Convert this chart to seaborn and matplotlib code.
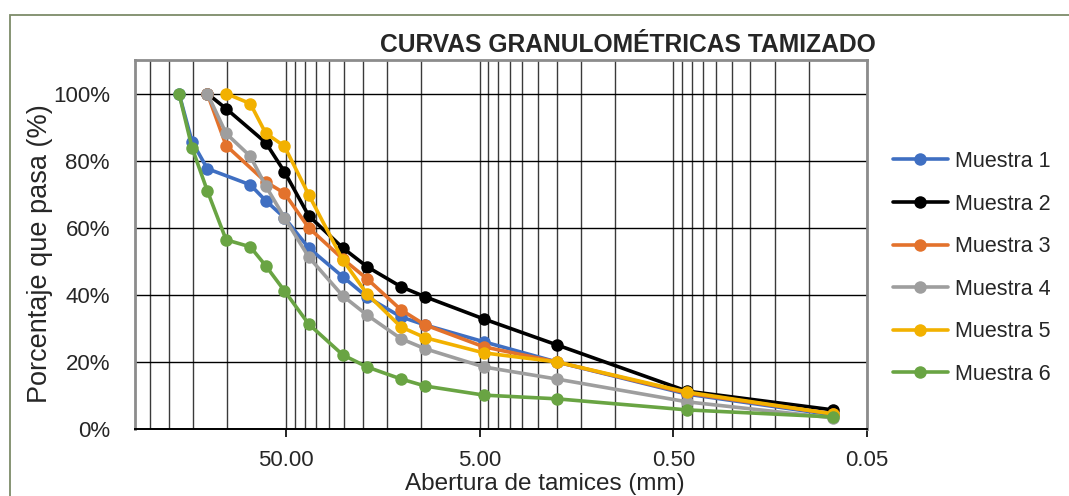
import numpy as np
import pandas as pd
import matplotlib
matplotlib.use("Agg")
import matplotlib.pyplot as plt
import seaborn as sns
from matplotlib.ticker import FixedLocator, FixedFormatter, NullFormatter
from matplotlib.patches import Rectangle

# ---------------- data ----------------
sieves = [177.8, 152.4, 127.0, 101.6, 76.2, 63.5, 50.8, 38.1, 25.4, 19.05,
          12.7, 9.525, 4.75, 2.0, 0.425, 0.075]
nan = np.nan
muestra_1 = [100, 85.7, 77.6, nan, 72.8, 68.1, 63.0, 54.0, 45.4, 39.4, 33.4, 31.0, 26.0, 20.0, 10.4, 4.2]
muestra_2 = [nan, nan, 100, 95.5, nan, 85.4, 76.7, 63.6, 54.0, 48.4, 42.4, 39.4, 32.8, 25.1, 11.3, 5.7]
muestra_3 = [nan, nan, 100, 84.5, nan, 73.7, 70.3, 60.0, 50.7, 44.8, 35.5, 31.0, 24.5, 20.0, 10.7, 4.5]
muestra_4 = [nan, nan, 100, 88.1, 81.3, 72.5, 63.0, 51.3, 39.7, 34.0, 26.9, 23.9, 18.5, 14.9, 8.1, 3.3]
muestra_5 = [nan, nan, nan, 100, 97.0, 88.2, 84.3, 69.9, 50.4, 40.3, 30.4, 27.2, 22.7, 20.0, 11.0, 4.5]
muestra_6 = [100, 83.9, 71.0, 56.4, 54.3, 48.7, 41.2, 31.3, 22.1, 18.5, 14.9, 12.8, 10.1, 9.0, 5.7, 3.6]

series_names = ["Muestra 1", "Muestra 2", "Muestra 3", "Muestra 4", "Muestra 5", "Muestra 6"]
series_vals = [muestra_1, muestra_2, muestra_3, muestra_4, muestra_5, muestra_6]
colors = ["#3F6FC2", "#000000", "#E3722C", "#9E9E9E", "#F2B100", "#69A443"]

x_major = [50, 5, 0.5, 0.05]
x_major_labels = ["50.00", "5.00", "0.50", "0.05"]
y_ticks = [0, 20, 40, 60, 80, 100]
y_labels = ["0%", "20%", "40%", "60%", "80%", "100%"]

title = "CURVAS GRANULOMÉTRICAS TAMIZADO"
xlabel = "Abertura de tamices (mm)"
ylabel = "Porcentaje que pasa (%)"

rows = []
for name, vals in zip(series_names, series_vals):
    for s, v in zip(sieves, vals):
        rows.append((name, s, v))
df = pd.DataFrame(rows, columns=["Serie", "Abertura", "Pasa"]).dropna()

# ---------------- plot ----------------
sns.set_theme(style="white")
plt.rcParams["font.family"] = ["Liberation Sans", "DejaVu Sans"]

W, H = 1069, 496
fig = plt.figure(figsize=(W / 100, H / 100), dpi=100)
fig.patch.set_facecolor("white")
ax = fig.add_axes([135 / W, 1 - 429 / H, (867 - 135) / W, (429 - 60) / H])

sns.lineplot(data=df, x="Abertura", y="Pasa", hue="Serie", hue_order=series_names,
             palette=colors, marker="o", markersize=9, markeredgewidth=0,
             linewidth=2.6, estimator=None, sort=False, ax=ax)

ax.set_xscale("log")
ax.set_xlim(300, 0.05)
ax.set_ylim(0, 110)

minor = []
for dec in [0.05, 0.5, 5, 50]:
    for k in range(2, 10):
        v = dec * k
        if v < 300:
            minor.append(v)
ax.xaxis.set_major_locator(FixedLocator(x_major))
ax.xaxis.set_major_formatter(FixedFormatter(x_major_labels))
ax.xaxis.set_minor_locator(FixedLocator(minor))
ax.xaxis.set_minor_formatter(NullFormatter())
ax.set_yticks(y_ticks)
ax.set_yticklabels(y_labels)

ax.grid(True, which="both", axis="x", color="#3a3a3a", linewidth=1.0)
ax.grid(True, which="major", axis="y", color="#000000", linewidth=1.0)
ax.set_axisbelow(True)

ax.tick_params(axis="x", which="major", direction="out", length=6, width=1.2,
               color="black", labelsize=16, pad=9, bottom=True)
ax.tick_params(axis="x", which="minor", length=0)
ax.tick_params(axis="y", length=0, labelsize=16, pad=18)

for side in ["top", "left", "right"]:
    ax.spines[side].set_color("#8c8c8c")
    ax.spines[side].set_linewidth(2)
ax.spines["bottom"].set_color("#000000")
ax.spines["bottom"].set_linewidth(1.4)

ax.set_xlabel("")
ax.set_ylabel("")

handles, labels = ax.get_legend_handles_labels()
ax.get_legend().remove()
fig.legend(handles, labels, loc="upper left", bbox_to_anchor=(893 / W, 1 - 151 / H),
           bbox_transform=fig.transFigure, frameon=False, fontsize=15.5,
           handlelength=2.55, handletextpad=0.35, labelspacing=1.0,
           borderpad=0, borderaxespad=0)

fig.text(628 / W, 1 - 45 / H, title, ha="center", va="center", fontsize=17.7,
         fontweight="bold")
fig.text(545 / W, 1 - 484 / H, xlabel, ha="center", va="center", fontsize=17.5)
fig.text(40 / W, 1 - 254 / H, ylabel, ha="center", va="center", fontsize=19.5,
         rotation=90)

border = Rectangle((10 / W, -0.2), 1.5, 1.2 - 15 / H, transform=fig.transFigure,
                   fill=False, edgecolor="#7d8b69", linewidth=1.3, clip_on=False)
fig.patches.append(border)

fig.savefig("out.png", dpi=100, facecolor="white")
